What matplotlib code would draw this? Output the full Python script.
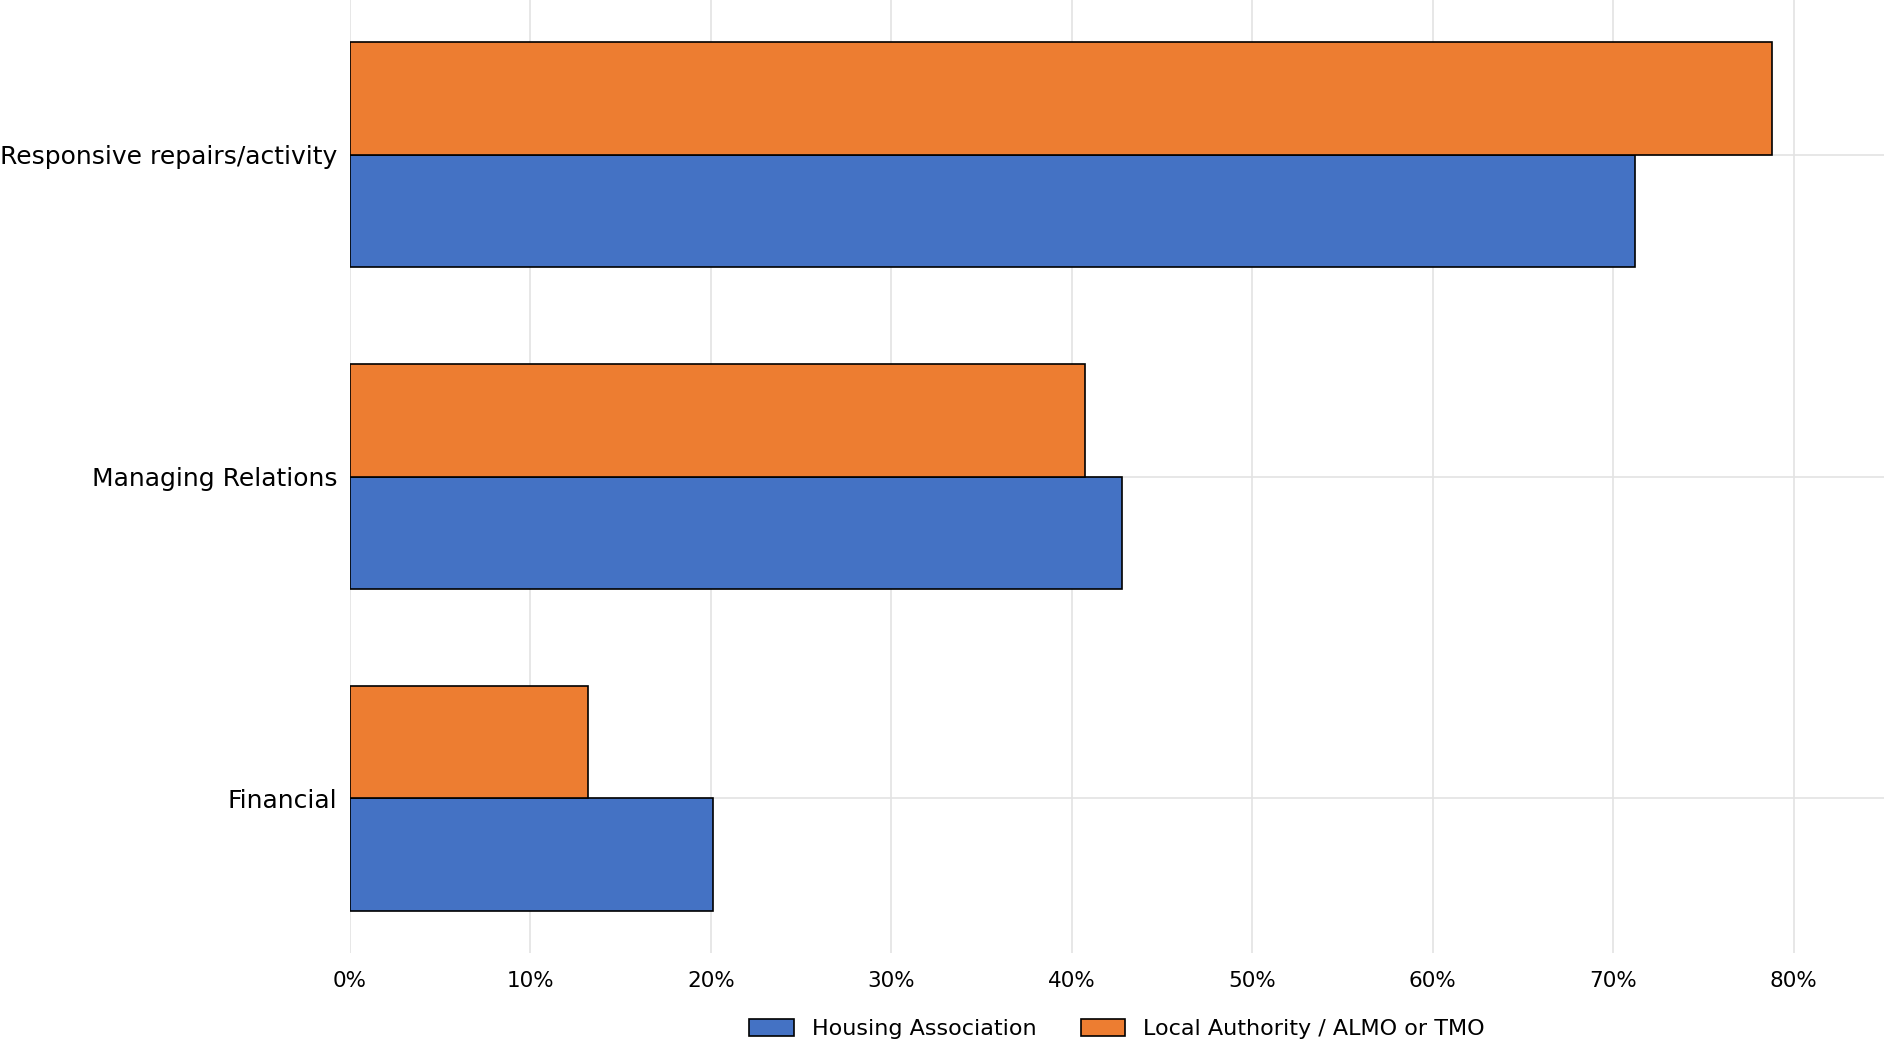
import numpy as np
import matplotlib.pyplot as plt
from matplotlib.ticker import PercentFormatter

# 数据
categories = ["Financial", "Managing Relations", "Responsive repairs/activity"]
housing_assoc = [0.201, 0.428, 0.712]
local_authority = [0.132, 0.407, 0.788]
x_ticks = [0, 0.1, 0.2, 0.3, 0.4, 0.5, 0.6, 0.7, 0.8]

BLUE = "#4472C4"
ORANGE = "#ED7D31"
bar_h = 0.35

fig = plt.figure(figsize=(18.84, 10.58), dpi=100)
ax = fig.add_axes([350 / 1884, 1 - 953 / 1058, (1884 - 350) / 1884, 953 / 1058])

y = np.arange(len(categories))
ax.barh(y - bar_h / 2, housing_assoc, height=bar_h, color=BLUE,
        edgecolor="black", linewidth=1.2, label="Housing Association", zorder=3)
ax.barh(y + bar_h / 2, local_authority, height=bar_h, color=ORANGE,
        edgecolor="black", linewidth=1.2, label="Local Authority / ALMO or TMO", zorder=3)

ax.set_xlim(0, 0.85)
ax.set_ylim(-0.48, 2.48)
ax.set_xticks(x_ticks)
ax.xaxis.set_major_formatter(PercentFormatter(1.0, decimals=0))
ax.set_yticks(y)
ax.set_yticklabels(categories, fontsize=18)
ax.tick_params(axis="x", labelsize=15.5, length=0, pad=13)
ax.tick_params(axis="y", length=0, pad=9)

ax.grid(True, color="#e3e3e3", linewidth=1.2, zorder=0)
for s in ax.spines.values():
    s.set_visible(False)

ax.legend(loc="upper center", bbox_to_anchor=(0.5, -0.048), ncol=2,
          frameon=False, fontsize=16, handlelength=2.0, handleheight=0.8,
          columnspacing=2.0)

fig.savefig("out.png", dpi=100)
